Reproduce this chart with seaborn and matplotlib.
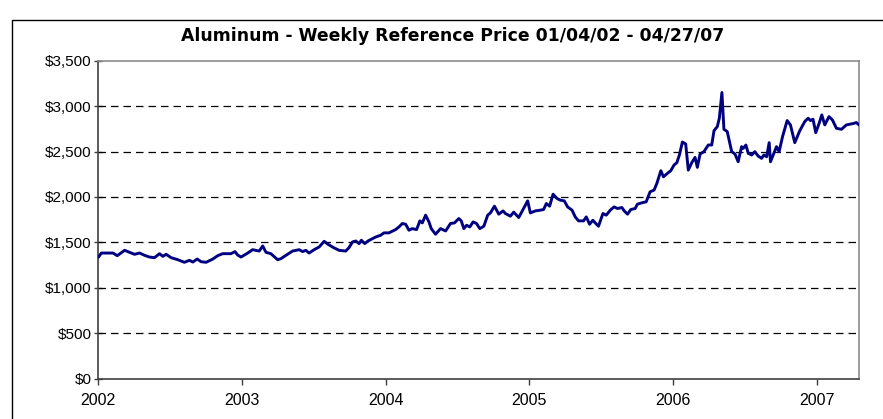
import matplotlib
matplotlib.use("Agg")
import matplotlib.pyplot as plt
from matplotlib.patches import Rectangle
from matplotlib.ticker import FuncFormatter, FixedLocator
import seaborn as sns
import pandas as pd

# ---- data (decimal year, $/ton) ----
year_pos = [
    2002.002, 2002.021, 2002.102, 2002.132, 2002.183, 2002.217, 2002.252, 2002.287,
    2002.322, 2002.356, 2002.391, 2002.426, 2002.449, 2002.472, 2002.507, 2002.553,
    2002.599, 2002.634, 2002.658, 2002.688, 2002.715, 2002.750, 2002.797, 2002.831,
    2002.866, 2002.924, 2002.951, 2002.970, 2002.993, 2003.040, 2003.074, 2003.120,
    2003.144, 2003.167, 2003.201, 2003.248, 2003.271, 2003.306, 2003.352, 2003.398,
    2003.422, 2003.444, 2003.467, 2003.502, 2003.537, 2003.572, 2003.599, 2003.637,
    2003.676, 2003.722, 2003.745, 2003.769, 2003.792, 2003.815, 2003.831, 2003.854,
    2003.877, 2003.908, 2003.931, 2003.965, 2003.988, 2004.023, 2004.035, 2004.069,
    2004.092, 2004.116, 2004.139, 2004.162, 2004.185, 2004.215, 2004.238, 2004.255,
    2004.278, 2004.301, 2004.317, 2004.347, 2004.382, 2004.417, 2004.451, 2004.479,
    2004.509, 2004.526, 2004.544, 2004.563, 2004.585, 2004.609, 2004.632, 2004.655,
    2004.683, 2004.710, 2004.729, 2004.757, 2004.787, 2004.817, 2004.833, 2004.868,
    2004.891, 2004.926, 2004.960, 2004.988, 2005.007, 2005.042, 2005.076, 2005.099,
    2005.118, 2005.141, 2005.165, 2005.192, 2005.215, 2005.243, 2005.266, 2005.297,
    2005.319, 2005.342, 2005.377, 2005.396, 2005.419, 2005.442, 2005.458, 2005.481,
    2005.512, 2005.535, 2005.563, 2005.590, 2005.613, 2005.644, 2005.660, 2005.683,
    2005.706, 2005.736, 2005.752, 2005.783, 2005.813, 2005.840, 2005.868, 2005.887,
    2005.915, 2005.933, 2005.960, 2005.984, 2006.007, 2006.026, 2006.044, 2006.065,
    2006.088, 2006.106, 2006.130, 2006.153, 2006.169, 2006.188, 2006.215, 2006.245,
    2006.269, 2006.285, 2006.308, 2006.322, 2006.340, 2006.354, 2006.377, 2006.408,
    2006.431, 2006.453, 2006.477, 2006.488, 2006.507, 2006.523, 2006.547, 2006.569,
    2006.592, 2006.616, 2006.632, 2006.651, 2006.669, 2006.678, 2006.697, 2006.720,
    2006.738, 2006.762, 2006.794, 2006.817, 2006.847, 2006.882, 2006.917, 2006.940,
    2006.956, 2006.974, 2006.993, 2007.016, 2007.035, 2007.056, 2007.085, 2007.109,
    2007.137, 2007.172, 2007.206, 2007.252, 2007.276, 2007.294,
]
price = [
    1339, 1383, 1383, 1354, 1413, 1391, 1369, 1383,
    1358, 1339, 1332, 1376, 1347, 1369, 1332, 1310,
    1281, 1303, 1284, 1317, 1288, 1281, 1317, 1354,
    1376, 1376, 1399, 1361, 1339, 1383, 1420, 1405,
    1461, 1391, 1376, 1310, 1321, 1358, 1405, 1420,
    1399, 1413, 1383, 1420, 1450, 1512, 1479, 1443,
    1413, 1405, 1443, 1505, 1516, 1487, 1524, 1487,
    1516, 1542, 1560, 1579, 1605, 1605, 1615, 1641,
    1670, 1708, 1700, 1634, 1652, 1641, 1737, 1715,
    1800, 1726, 1652, 1590, 1652, 1626, 1708, 1715,
    1763, 1737, 1652, 1689, 1670, 1726, 1708, 1652,
    1678, 1800, 1825, 1899, 1811, 1847, 1818, 1789,
    1833, 1774, 1873, 1957, 1825, 1847, 1855, 1862,
    1928, 1899, 2031, 1984, 1965, 1957, 1891, 1855,
    1781, 1737, 1737, 1781, 1700, 1744, 1715, 1678,
    1818, 1800, 1855, 1891, 1873, 1884, 1847, 1811,
    1862, 1873, 1921, 1936, 1947, 2057, 2076, 2149,
    2289, 2222, 2259, 2289, 2352, 2377, 2462, 2605,
    2583, 2296, 2377, 2436, 2326, 2473, 2499, 2572,
    2572, 2730, 2775, 2867, 3150, 2745, 2720, 2499,
    2473, 2388, 2554, 2535, 2572, 2481, 2462, 2499,
    2451, 2425, 2462, 2443, 2598, 2388, 2462, 2554,
    2499, 2665, 2841, 2793, 2598, 2730, 2831, 2867,
    2841, 2856, 2708, 2808, 2903, 2793, 2885, 2848,
    2756, 2745, 2793, 2808, 2819, 2793,
]
year_ticks = [2002, 2003, 2004, 2005, 2006, 2007]
y_ticks = [0, 500, 1000, 1500, 2000, 2500, 3000, 3500]
title = "Aluminum - Weekly Reference Price 01/04/02 - 04/27/07"

df = pd.DataFrame({"year": year_pos, "price": price})

sns.set_theme(style="white")
plt.rcParams["font.family"] = ["Liberation Sans", "DejaVu Sans"]

W, H = 883, 419
fig = plt.figure(figsize=(W / 100, H / 100), dpi=100)
fig.patch.set_facecolor("white")
ax = fig.add_axes([98.3 / W, 1 - 378.7 / H, (859 - 98.3) / W, (378.7 - 60.7) / H])

# gridlines (dashed) below the line
for v in y_ticks[1:-1]:
    ax.axhline(v, color="black", lw=0.9, ls=(0, (6, 4)), zorder=1)

sns.lineplot(data=df, x="year", y="price", ax=ax, color="#000080",
             linewidth=2.1, zorder=3, estimator=None, sort=False)

ax.set_xlim(2002.0, 2007.294)
ax.set_ylim(0, 3500)
ax.xaxis.set_major_locator(FixedLocator(year_ticks))
ax.set_xticklabels([str(y) for y in year_ticks])
ax.yaxis.set_major_locator(FixedLocator(y_ticks))
ax.yaxis.set_major_formatter(FuncFormatter(lambda v, p: "${:,.0f}".format(v)))
ax.set_xlabel("")
ax.set_ylabel("")

ax.tick_params(axis="y", direction="inout", length=6, width=1, color="#404040",
               labelsize=11, pad=2, left=True, labelcolor="black")
ax.tick_params(axis="x", direction="out", length=4, width=1, color="#404040",
               labelsize=11.5, pad=6, bottom=True, labelcolor="black")

for s in ["left", "bottom"]:
    ax.spines[s].set_color("#404040")
    ax.spines[s].set_linewidth(1.2)
for s in ["top", "right"]:
    ax.spines[s].set_color("#8c8c8c")
    ax.spines[s].set_linewidth(1.2)

fig.text(0.5 * (178 + 728) / W, 1 - 36 / H, title, ha="center", va="center",
         fontsize=12.4, fontweight="bold", color="black", family=["DejaVu Sans"])

# outer chart border (cropped at the right and bottom in the reference)
fig.patches.append(Rectangle((12 / W, -0.2), 2.0, 1.2 - 20 / H, transform=fig.transFigure,
                             fill=False, edgecolor="black", lw=1.0))

fig.savefig("out.png", dpi=100)
